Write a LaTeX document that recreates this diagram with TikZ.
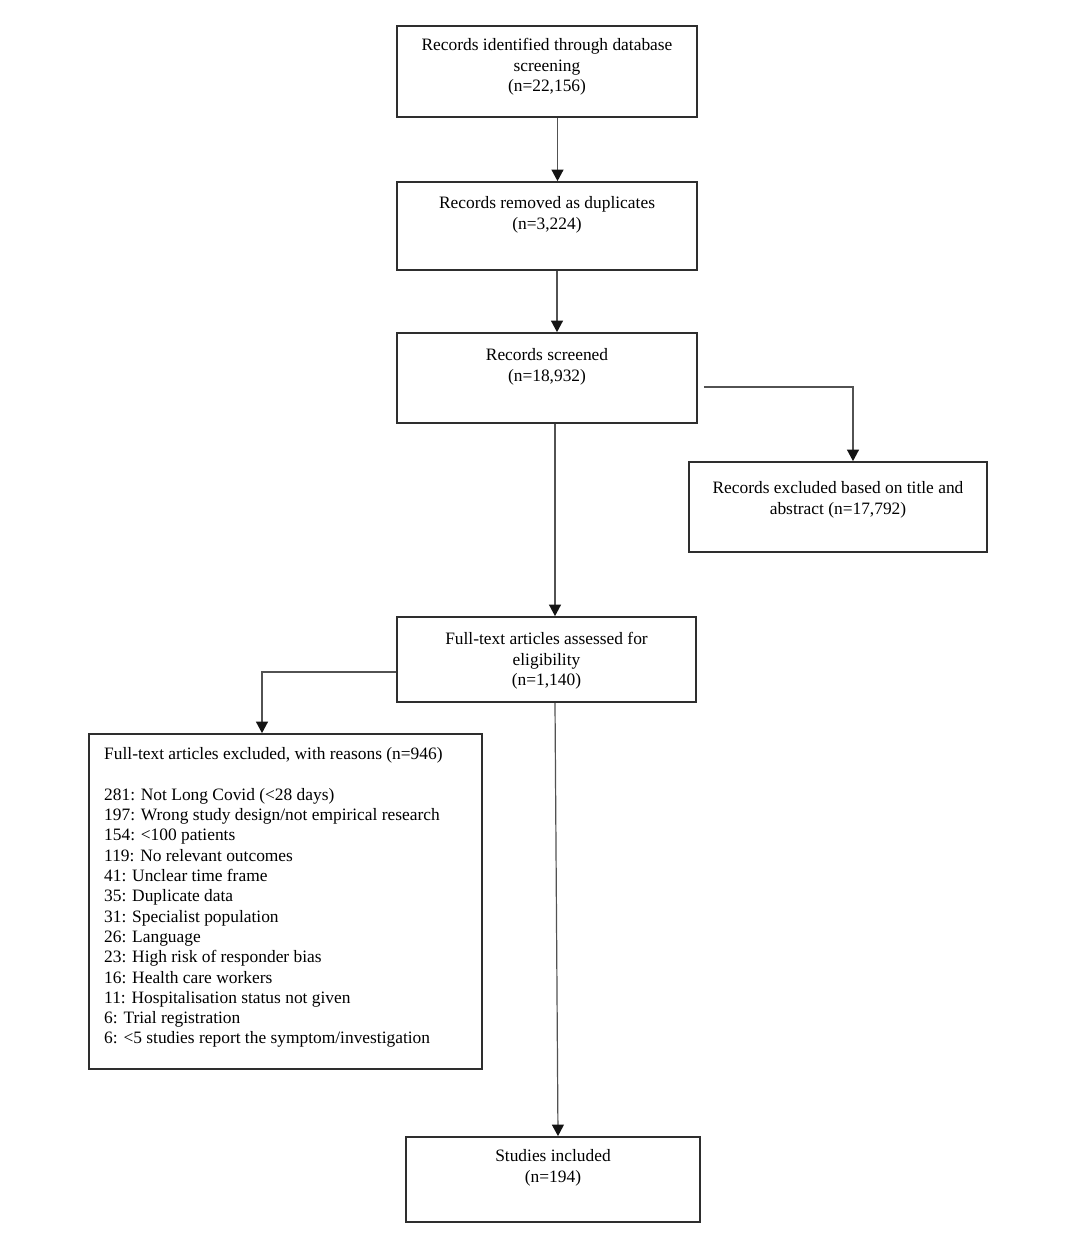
\documentclass[tikz,border=0pt]{standalone}
\usepackage{fontspec}
\setmainfont{Liberation Serif}
\usetikzlibrary{arrows.meta,calc}
\definecolor{boxc}{gray}{0.18}
\definecolor{arrc}{gray}{0.32}
\definecolor{tipc}{gray}{0.08}
\begin{document}
\begin{tikzpicture}[x=1pt,y=-1pt,
  box/.style={draw=boxc, line width=1.8pt, rectangle, inner sep=0pt},
  txt/.style={inner sep=0pt, align=center, font=\fontsize{17.4}{20.3}\selectfont, anchor=north},
  ltxt/.style={inner sep=0pt, align=left, font=\fontsize{17.4}{20.3}\selectfont, anchor=north west},
  arr/.style={draw=arrc, line width=1.2pt, -{Triangle[width=12pt,length=11.5pt,color=tipc,fill=tipc]}}]
\useasboundingbox[fill=white] (0,0) rectangle (1080,1247);
% boxes
\node[box, minimum width=300pt, minimum height=91pt] (b1) at (547,71.5) {};
\node[box, minimum width=300pt, minimum height=88pt] (b2) at (547,226) {};
\node[box, minimum width=300pt, minimum height=90pt] (b3) at (547,378) {};
\node[box, minimum width=298pt, minimum height=90pt] (ex1) at (838,507) {};
\node[box, minimum width=299pt, minimum height=85pt] (b4) at (546.5,659.5) {};
\node[box, minimum width=393pt, minimum height=335pt] (ex2) at (285.5,901.5) {};
\node[box, minimum width=294pt, minimum height=85pt] (b5) at (553,1179.5) {};
% texts
\node[txt] (t1) at (547,38.5) {Records identified through database\\screening\\(n=22,156)};
\node[txt] (t2) at (547,196.5) {Records removed as duplicates\\(n=3,224)};
\node[txt] (t3) at (547,348.5) {Records screened\\(n=18,932)};
\node[txt] (t4) at (838,481.5) {Records excluded based on title and\\abstract (n=17,792)};
\node[txt] (t5) at (546.5,632.5) {Full-text articles assessed for\\eligibility\\(n=1,140)};
\node[ltxt] (t6) at (104,747.5) {Full-text articles excluded, with reasons (n=946)\\[20.3pt]
281: Not Long Covid (<28 days)\\
197: Wrong study design/not empirical research\\
154: <100 patients\\
119: No relevant outcomes\\
41: Unclear time frame\\
35: Duplicate data\\
31: Specialist population\\
26: Language\\
23: High risk of responder bias\\
16: Health care workers\\
11: Hospitalisation status not given\\
6: Trial registration\\
6: <5 studies report the symptom/investigation};
\node[txt] (t7) at (553,1149.5) {Studies included\\(n=194)};
% connectors
\draw[arr] ($(b1.south)+(10.5,0)$) -- ($(b2.north)+(10.5,0)$);
\draw[arr] ($(b2.south)+(10,0)$) -- ($(b3.north)+(10,0)$);
\draw[arr] ($(b3.south)+(8,0)$) -- ($(b4.north)+(8.5,0)$);
\draw[arr] ($(b3.east)+(6,9)$) -| ($(ex1.north)+(15,0)$);
\draw[arr] ($(b4.west)+(0,12.5)$) -| ($(ex2.north)+(-23.5,0)$);
\draw[arr] ($(b4.south)+(8.5,0)$) -- ($(b5.north)+(5,0)$);
\end{tikzpicture}
\end{document}
